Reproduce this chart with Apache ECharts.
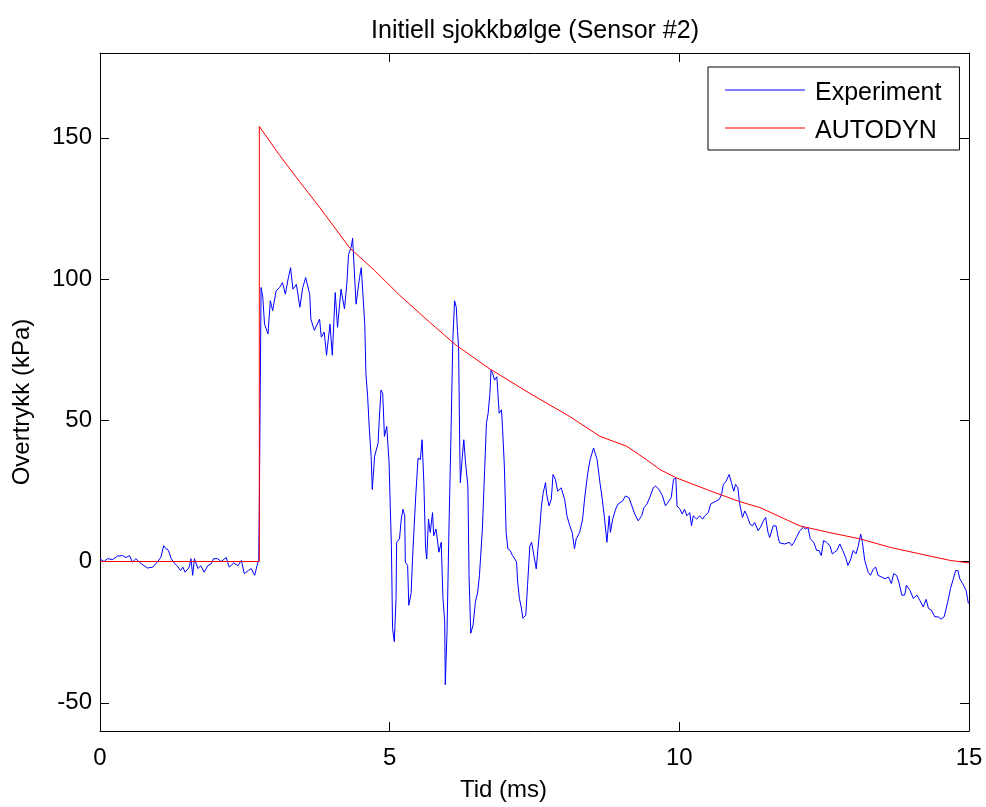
<!DOCTYPE html>
<html>
<head>
<meta charset="utf-8">
<title>Initiell sjokkbølge (Sensor #2)</title>
<script src="https://cdn.jsdelivr.net/npm/echarts@6/dist/echarts.min.js"></script>
<style>
  html, body { margin: 0; padding: 0; background: #fff; }
  #chart { width: 986px; height: 807px; }
</style>
</head>
<body>
<div id="chart"></div>
<script>
// Measured overpressure, sensor #2 (time in ms, pressure in kPa)
const expT = [
  0.00, 0.07, 0.13, 0.22, 0.30, 0.39, 0.45, 0.51, 0.56, 0.62, 0.71, 0.82, 0.91, 0.99,
  1.05, 1.10, 1.14, 1.18, 1.23, 1.28, 1.33, 1.39, 1.43, 1.47, 1.54, 1.57, 1.60, 1.63,
  1.69, 1.74, 1.80, 1.86, 1.92, 1.96, 2.03, 2.09, 2.18, 2.23, 2.31, 2.38, 2.44, 2.49,
  2.56, 2.61, 2.67, 2.71, 2.74, 2.75, 2.77, 2.78, 2.81, 2.84, 2.90, 2.94, 2.98, 3.04,
  3.10, 3.15, 3.20, 3.24, 3.29, 3.33, 3.39, 3.45, 3.50, 3.55, 3.62, 3.64, 3.70, 3.79,
  3.82, 3.87, 3.91, 3.97, 4.01, 4.06, 4.10, 4.16, 4.22, 4.26, 4.29, 4.34, 4.36, 4.39,
  4.42, 4.48, 4.51, 4.54, 4.57, 4.59, 4.62, 4.65, 4.68, 4.70, 4.74, 4.80, 4.82, 4.85,
  4.88, 4.91, 4.95, 4.99, 5.01, 5.03, 5.05, 5.08, 5.11, 5.12, 5.17, 5.20, 5.23, 5.26,
  5.27, 5.31, 5.33, 5.37, 5.40, 5.45, 5.49, 5.53, 5.56, 5.59, 5.62, 5.64, 5.67, 5.70,
  5.74, 5.76, 5.80, 5.85, 5.89, 5.92, 5.95, 5.96, 5.99, 6.02, 6.06, 6.09, 6.12, 6.15,
  6.17, 6.19, 6.21, 6.22, 6.25, 6.28, 6.31, 6.35, 6.37, 6.40, 6.44, 6.48, 6.52, 6.55,
  6.60, 6.64, 6.67, 6.70, 6.73, 6.75, 6.78, 6.81, 6.85, 6.89, 6.93, 6.95, 6.98, 7.01,
  7.04, 7.08, 7.12, 7.16, 7.19, 7.21, 7.24, 7.27, 7.30, 7.35, 7.38, 7.42, 7.45, 7.50,
  7.53, 7.56, 7.59, 7.62, 7.65, 7.69, 7.71, 7.75, 7.79, 7.82, 7.86, 7.90, 7.96, 8.02,
  8.06, 8.11, 8.15, 8.19, 8.22, 8.28, 8.33, 8.37, 8.42, 8.46, 8.52, 8.58, 8.63, 8.67,
  8.71, 8.75, 8.79, 8.81, 8.85, 8.90, 8.94, 8.97, 9.02, 9.07, 9.13, 9.17, 9.23, 9.29,
  9.35, 9.39, 9.44, 9.50, 9.55, 9.59, 9.65, 9.71, 9.76, 9.80, 9.86, 9.90, 9.94, 9.96,
  10.01, 10.05, 10.09, 10.13, 10.18, 10.21, 10.24, 10.30, 10.35, 10.40, 10.44, 10.50,
  10.54, 10.58, 10.64, 10.69, 10.73, 10.76, 10.81, 10.86, 10.90, 10.94, 10.97, 11.01,
  11.04, 11.09, 11.13, 11.17, 11.22, 11.26, 11.30, 11.36, 11.40, 11.45, 11.49, 11.53,
  11.56, 11.62, 11.67, 11.70, 11.73, 11.82, 11.90, 11.94, 11.98, 12.02, 12.08, 12.14,
  12.18, 12.22, 12.26, 12.32, 12.37, 12.41, 12.45, 12.49, 12.54, 12.60, 12.64, 12.68,
  12.72, 12.77, 12.82, 12.87, 12.91, 12.96, 13.00, 13.05, 13.09, 13.13, 13.16, 13.20,
  13.26, 13.30, 13.35, 13.39, 13.43, 13.49, 13.55, 13.61, 13.66, 13.70, 13.75, 13.79,
  13.84, 13.89, 13.92, 13.98, 14.04, 14.10, 14.15, 14.21, 14.26, 14.30, 14.35, 14.41,
  14.47, 14.52, 14.57, 14.60, 14.64, 14.68, 14.73, 14.77, 14.81, 14.84, 14.89, 14.95,
  14.99
];
const expP = [
  0.9, 0.0, 1.0, 0.7, 1.9, 2.1, 1.4, 2.1, -0.2, 1.0, -0.8, -2.3, -2.0, -0.2,
  1.5, 5.6, 4.5, 4.0, 1.0, -0.5, -1.5, -3.2, -2.0, -3.8, -2.0, 1.0, -4.9, 1.0,
  -2.5, -1.5, -3.8, -1.5, -0.8, 1.0, 1.0, 0.0, 1.4, -2.0, -0.5, -1.5, 0.4, -4.3,
  -3.2, -2.5, -4.9, -1.5, 0.4, 19.7, 71.0, 97.0, 93.5, 84.0, 80.6, 92.3, 88.8, 95.8,
  97.0, 98.7, 94.6, 99.3, 104.0, 96.4, 98.1, 90.0, 97.0, 100.5, 94.6, 85.8, 81.8, 85.8,
  79.4, 81.2, 73.0, 84.0, 73.0, 95.2, 82.9, 96.4, 89.4, 98.1, 108.7, 111.6, 114.5, 114.5,
  91.1, 100.5, 104.0, 104.6, 84.0, 66.5, 58.3, 46.6, 37.2, 25.5, 37.2, 41.9, 50.1, 60.7,
  59.5, 44.3, 47.8, 34.9, 19.7, 5.6, -23.7, -28.4, -13.1, 6.8, 8.0, 15.0, 18.5, 16.2,
  -0.2, -1.4, -15.5, -11.3, 3.3, 23.2, 36.6, 36.1, 43.1, 27.9, 4.5, 0.9, 15.0, 10.3,
  17.3, 9.1, 11.5, 3.3, 6.8, -13.1, -21.3, -43.6, -24.8, 8.0, 46.6, 78.2, 92.3, 90.0,
  81.8, 75.9, 39.6, 27.9, 36.1, 43.1, 34.9, 26.7, -4.9, -25.4, -22.5, -14.3, -10.8, -4.9,
  11.5, 32.6, 48.9, 52.5, 59.5, 67.7, 66.5, 64.2, 65.4, 52.5, 53.7, 46.6, 33.7, 10.3,
  4.5, 3.9, 2.1, 0.9, -0.2, -7.3, -13.1, -16.1, -20.1, -19.0, -8.4, 5.6, 6.8, 0.9,
  -2.6, 4.5, 11.5, 19.7, 24.3, 27.9, 23.8, 19.7, 22.0, 30.8, 29.1, 24.9, 26.1, 22.0,
  16.2, 12.6, 10.3, 4.5, 8.0, 10.3, 15.0, 23.2, 31.4, 36.1, 40.2, 36.1, 27.9, 22.0,
  15.0, 6.8, 16.2, 10.3, 15.0, 18.5, 20.3, 19.7, 21.4, 23.2, 22.6, 20.3, 16.8, 14.4,
  16.2, 19.1, 20.3, 23.2, 26.1, 26.7, 25.5, 23.2, 19.7, 20.8, 22.6, 29.1, 29.6, 19.7,
  18.5, 16.8, 18.5, 16.2, 17.3, 12.6, 16.2, 15.0, 16.2, 15.0, 16.2, 17.3,
  20.3, 20.8, 21.4, 22.0, 23.8, 27.3, 28.5, 30.8, 27.9, 24.9, 27.3, 26.1,
  20.5, 15.6, 17.9, 16.2, 13.2, 12.6, 13.8, 10.9, 12.1, 14.4, 15.6, 10.3,
  8.5, 12.6, 12.6, 9.1, 6.6, 6.2, 6.8, 5.6, 6.8, 8.5, 10.9, 12.1,
  11.5, 12.1, 8.0, 6.8, 3.9, 3.9, 2.1, 7.4, 6.8, 5.6, 2.7, 3.3,
  3.9, 6.2, 3.9, 1.5, -1.4, 0.9, 3.9, 2.7, 5.6, 9.7, 6.8, 0.4,
  -3.8, -4.9, -2.6, -2.0, -4.9, -5.5, -6.1, -5.5, -7.8, -4.3, -4.9, -7.3,
  -11.9, -11.9, -8.4, -10.2, -13.1, -11.9, -13.7, -16.1, -13.4, -16.6, -17.2, -19.6,
  -19.6, -20.4, -19.6, -17.2, -13.7, -9.6, -6.1, -3.2, -3.2, -6.1, -7.8, -10.2,
  -14.9
];

// AUTODYN simulation
const autoT = [0, 2.75, 2.75, 3.10, 3.44, 3.79, 4.31, 4.74, 5.17, 5.69, 6.15, 6.72, 7.42, 8.11,
  8.63, 9.09, 9.43, 9.66, 9.95, 10.47, 11.04, 11.39, 12.08, 12.58, 13.12, 13.64, 14.15, 14.67, 15.0];
const autoP = [0, 0, 154, 143.8, 134.6, 125.4, 111.0, 103.0, 94.3, 84.7, 76.5, 68.3, 59.5, 51.3,
  44.3, 40.8, 36.1, 32.6, 29.6, 25.5, 21.2, 19.1, 12.6, 10.3, 8.0, 5.0, 2.7, 0.4, -0.5];

const xTicks = [0, 5, 10, 15];
const yTicks = [-50, 0, 50, 100, 150];
const seriesNames = ['Experiment', 'AUTODYN'];

const FONT = "'Liberation Sans', Arial, Helvetica, sans-serif";
const pairs = (t, p) => t.map((v, i) => [v, p[i]]);

const chart = echarts.init(document.getElementById('chart'), null, { renderer: 'canvas' });

const boxLine = { show: true, onZero: false, lineStyle: { color: '#000', width: 1 } };
const innerTick = (vals) => ({ show: true, inside: true, length: 9, customValues: vals, lineStyle: { color: '#000', width: 1 } });

// legend sample: a plain 1px bar, sitting a little above the label's middle
// (the tiny second sub-path only widens the icon's bounding box)
const lineIcon = 'path://M0,0H80V1H0Z M0,8H0.01V8.01H0Z';

chart.setOption({
  animation: false,
  backgroundColor: '#fff',
  title: {
    text: 'Initiell sjokkbølge (Sensor #2)',
    left: 535,
    top: 19,
    textAlign: 'center',
    padding: 0,
    textStyle: { fontFamily: FONT, fontSize: 25, fontWeight: 'normal', color: '#000' }
  },
  legend: {
    data: seriesNames.map(n => ({ name: n, icon: lineIcon })),
    orient: 'vertical',
    left: 708,
    top: 67,
    padding: [14, 18, 6, 17],
    itemWidth: 80,
    itemHeight: 24,
    itemGap: 13,
    borderColor: '#000',
    borderWidth: 1,
    backgroundColor: '#fff',
    itemStyle: { borderWidth: 0 },
    textStyle: { fontFamily: FONT, fontSize: 25, color: '#000', lineHeight: 24, padding: [0, 0, 0, 5] }
  },
  grid: { left: 100, right: 17, top: 53, bottom: 70 },
  xAxis: [
    {
      type: 'value', min: 0, max: 15, position: 'bottom',
      axisLine: boxLine,
      axisTick: innerTick(xTicks),
      axisLabel: { customValues: xTicks, fontFamily: FONT, fontSize: 24, color: '#000', margin: 15 },
      splitLine: { show: false },
      name: 'Tid (ms)', nameLocation: 'middle', nameGap: 47,
      nameTextStyle: { fontFamily: FONT, fontSize: 24, color: '#000', padding: [0, 62, 0, 0] }
    },
    {
      type: 'value', min: 0, max: 15, position: 'top',
      axisLine: boxLine,
      axisTick: innerTick(xTicks),
      axisLabel: { show: false },
      splitLine: { show: false }
    }
  ],
  yAxis: [
    {
      type: 'value', min: -60, max: 180, position: 'left',
      axisLine: boxLine,
      axisTick: innerTick(yTicks),
      axisLabel: { customValues: yTicks, fontFamily: FONT, fontSize: 24, color: '#000', margin: 8 },
      splitLine: { show: false },
      name: 'Overtrykk (kPa)', nameLocation: 'middle', nameGap: 66,
      nameTextStyle: { fontFamily: FONT, fontSize: 24, color: '#000', padding: [0, 20, 0, 0] }
    },
    {
      type: 'value', min: -60, max: 180, position: 'right',
      axisLine: boxLine,
      axisTick: innerTick(yTicks),
      axisLabel: { show: false },
      splitLine: { show: false }
    }
  ],
  series: [
    {
      name: seriesNames[0], type: 'line', xAxisIndex: 0, yAxisIndex: 0,
      data: pairs(expT, expP),
      symbol: 'none', lineStyle: { color: '#0000ff', width: 1 }, itemStyle: { color: '#0000ff' }
    },
    {
      name: seriesNames[1], type: 'line', xAxisIndex: 0, yAxisIndex: 0,
      data: pairs(autoT, autoP),
      symbol: 'none', lineStyle: { color: '#ff0000', width: 1 }, itemStyle: { color: '#ff0000' }
    }
  ]
});
</script>
</body>
</html>
